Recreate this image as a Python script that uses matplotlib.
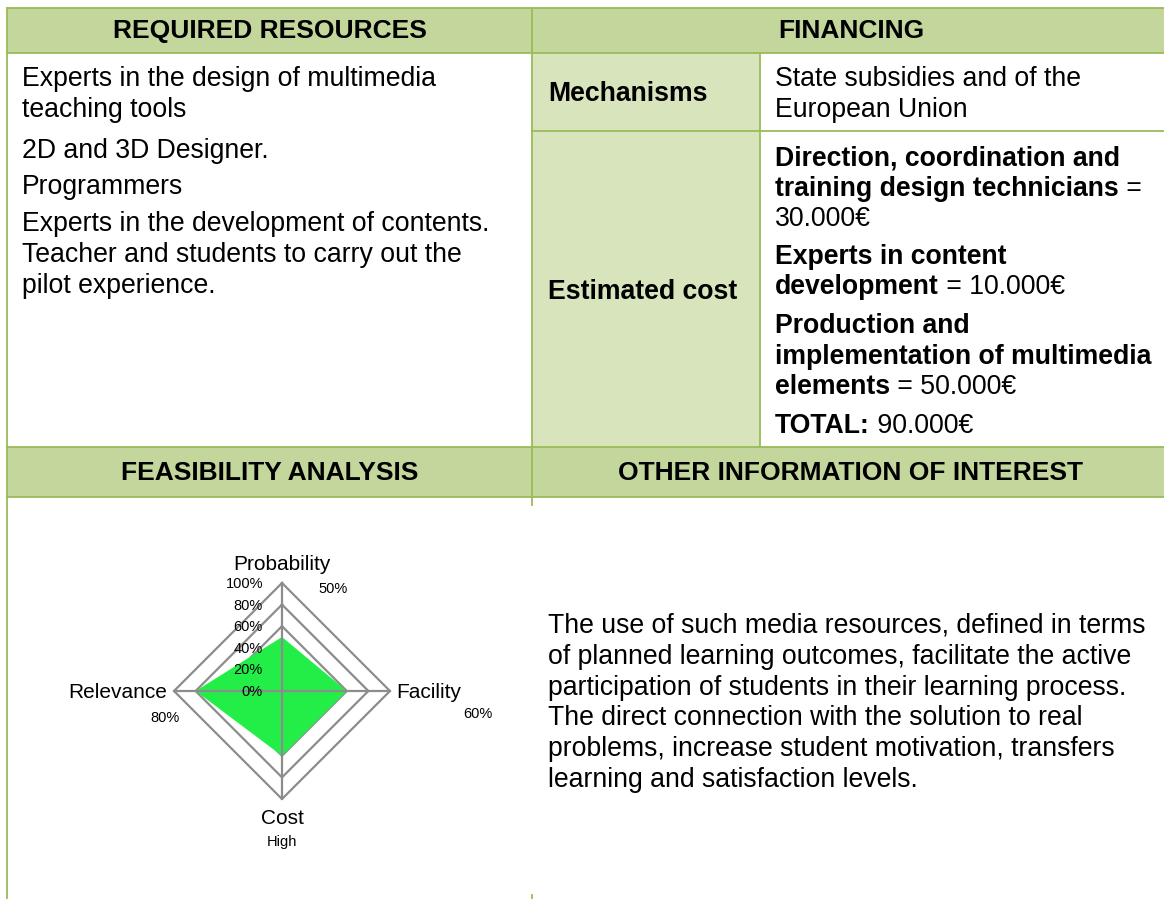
import numpy as np
import matplotlib
matplotlib.use("Agg")
from matplotlib import pyplot as plt
from matplotlib.patches import Rectangle

plt.rcParams["font.family"] = ["Liberation Sans", "DejaVu Sans"]

# radar data
categories = ["Probability", "Facility", "Cost", "Relevance"]
values = [50, 60, 60, 80]
sub_labels = ["50%", "60%", "High", "80%"]
grid_levels = [0, 20, 40, 60, 80, 100]
tick_labels = ["0%", "20%", "40%", "60%", "80%", "100%"]

# table text
headers_top = ["REQUIRED RESOURCES", "FINANCING"]
headers_bottom = ["FEASIBILITY ANALYSIS", "OTHER INFORMATION OF INTEREST"]
resources = [
    ["Experts in the design of multimedia", "teaching tools"],
    ["2D and 3D Designer."],
    ["Programmers"],
    ["Experts in the development of contents.", "Teacher and students to carry out the",
     "pilot experience."],
]
mechanisms = ["State subsidies and of the", "European Union"]
# (bold part, regular part) per line
costs = [
    [("Direction, coordination and", ""), ("training design technicians", " = "), ("", "30.000€")],
    [("Experts in content", ""), ("development", " = 10.000€")],
    [("Production and", ""), ("implementation of multimedia", ""), ("elements", " = 50.000€")],
    [("TOTAL:", " 90.000€")],
]
other_info = [
    "The use of such media resources, defined in terms",
    "of planned learning outcomes, facilitate the active",
    "participation of students in their learning process.",
    "The direct connection with the solution to real",
    "problems, increase student motivation, transfers",
    "learning and satisfaction levels.",
]

W, H = 1164, 899
HEAD = "#C3D69B"
CELL = "#D7E4BC"
LINE = "#9BBB59"
FS = 19.2

fig = plt.figure(figsize=(W / 100, H / 100), dpi=100)
ax = fig.add_axes([0, 0, 1, 1])
ax.set_xlim(0, W)
ax.set_ylim(H, 0)
ax.axis("off")

# backgrounds
ax.add_patch(Rectangle((7, 8), W - 7, 45, color=HEAD, lw=0))
ax.add_patch(Rectangle((7, 447), W - 7, 50, color=HEAD, lw=0))
ax.add_patch(Rectangle((532, 53), 228, 394, color=CELL, lw=0))

# borders
lw = 1.3
for y in [8, 53, 447, 497]:
    ax.plot([7, W], [y, y], color=LINE, lw=lw)
ax.plot([532, W], [131, 131], color=LINE, lw=lw)
ax.plot([7, 7], [8, H], color=LINE, lw=lw)
ax.plot([532, 532], [8, 505], color=LINE, lw=lw)
ax.plot([760, 760], [53, 447], color=LINE, lw=lw)
ax.plot([532, 532], [895, 899], color=LINE, lw=lw)

# headers
for txt, x in zip(headers_top, [270, 851]):
    ax.text(x, 31, txt, fontsize=19, fontweight="bold", ha="center", va="center")
for txt, x in zip(headers_bottom, [270, 851]):
    ax.text(x, 473, txt, fontsize=19, fontweight="bold", ha="center", va="center")

# required resources
para_y = [79, 151, 187, 224]
for lines, y0 in zip(resources, para_y):
    for i, line in enumerate(lines):
        ax.text(22, y0 + i * 31, line, fontsize=FS, va="center")

# financing
ax.text(548, 94, "Mechanisms", fontsize=FS, fontweight="bold", va="center")
ax.text(548, 292, "Estimated cost", fontsize=FS, fontweight="bold", va="center")
for i, line in enumerate(mechanisms):
    ax.text(775, 79 + i * 31, line, fontsize=FS, va="center")

cost_y = [158, 257, 326, 426]
for lines, y0 in zip(costs, cost_y):
    for i, (b, r) in enumerate(lines):
        y = y0 + i * 30.5
        t = ax.text(775, y, b, fontsize=FS, fontweight="bold", va="center")
        if r:
            if b:
                ax.annotate(r, xy=(1, 0), xycoords=t, fontsize=FS, va="bottom", ha="left")
            else:
                ax.text(775, y, r, fontsize=FS, va="center")

# other information
for i, line in enumerate(other_info):
    ax.text(548, 626 + i * 30.8, line, fontsize=FS, va="center")

# radar chart
cx, cy, half, r100 = 282, 691, 150, 108
lim = half / r100 * 100
rax = fig.add_axes([(cx - half) / W, (H - cy - half) / H, 2 * half / W, 2 * half / H])
rax.set_xlim(-lim, lim)
rax.set_ylim(-lim, lim)
rax.axis("off")

theta = np.deg2rad(90 - 90 * np.arange(len(categories)))
ux, uy = np.cos(theta), np.sin(theta)

for lvl in grid_levels[1:]:
    rax.plot(np.append(ux, ux[0]) * lvl, np.append(uy, uy[0]) * lvl,
             color="#8C8C8C", lw=1.6, zorder=1)
vals = np.array(values)
rax.fill(ux * vals, uy * vals, color="#23EE48", lw=0, zorder=2)
for x, y in zip(ux, uy):
    rax.plot([0, x * 100], [0, y * 100], color="#8C8C8C", lw=1.6, zorder=3)

for lvl, lab in zip(grid_levels, tick_labels):
    rax.annotate(lab, xy=(0, lvl), xytext=(-19, -1), textcoords="offset pixels",
                 fontsize=10.5, ha="right", va="center", zorder=4)

cat_offsets = [(0, 19, "center"), (6, -1, "left"), (0, -20, "center"), (-7, -1, "right")]
sub_offsets = [(51, -6), (88, -23), (0, -43), (-9, -27)]
for i, (cat, sub) in enumerate(zip(categories, sub_labels)):
    dx, dy, ha = cat_offsets[i]
    rax.annotate(cat, xy=(ux[i] * 100, uy[i] * 100), xytext=(dx, dy),
                 textcoords="offset pixels", fontsize=15, ha=ha, va="center")
    sx, sy = sub_offsets[i]
    rax.annotate(sub, xy=(ux[i] * 100, uy[i] * 100), xytext=(sx, sy),
                 textcoords="offset pixels", fontsize=10.5, ha="center", va="center")

fig.savefig("out.png", dpi=100)
